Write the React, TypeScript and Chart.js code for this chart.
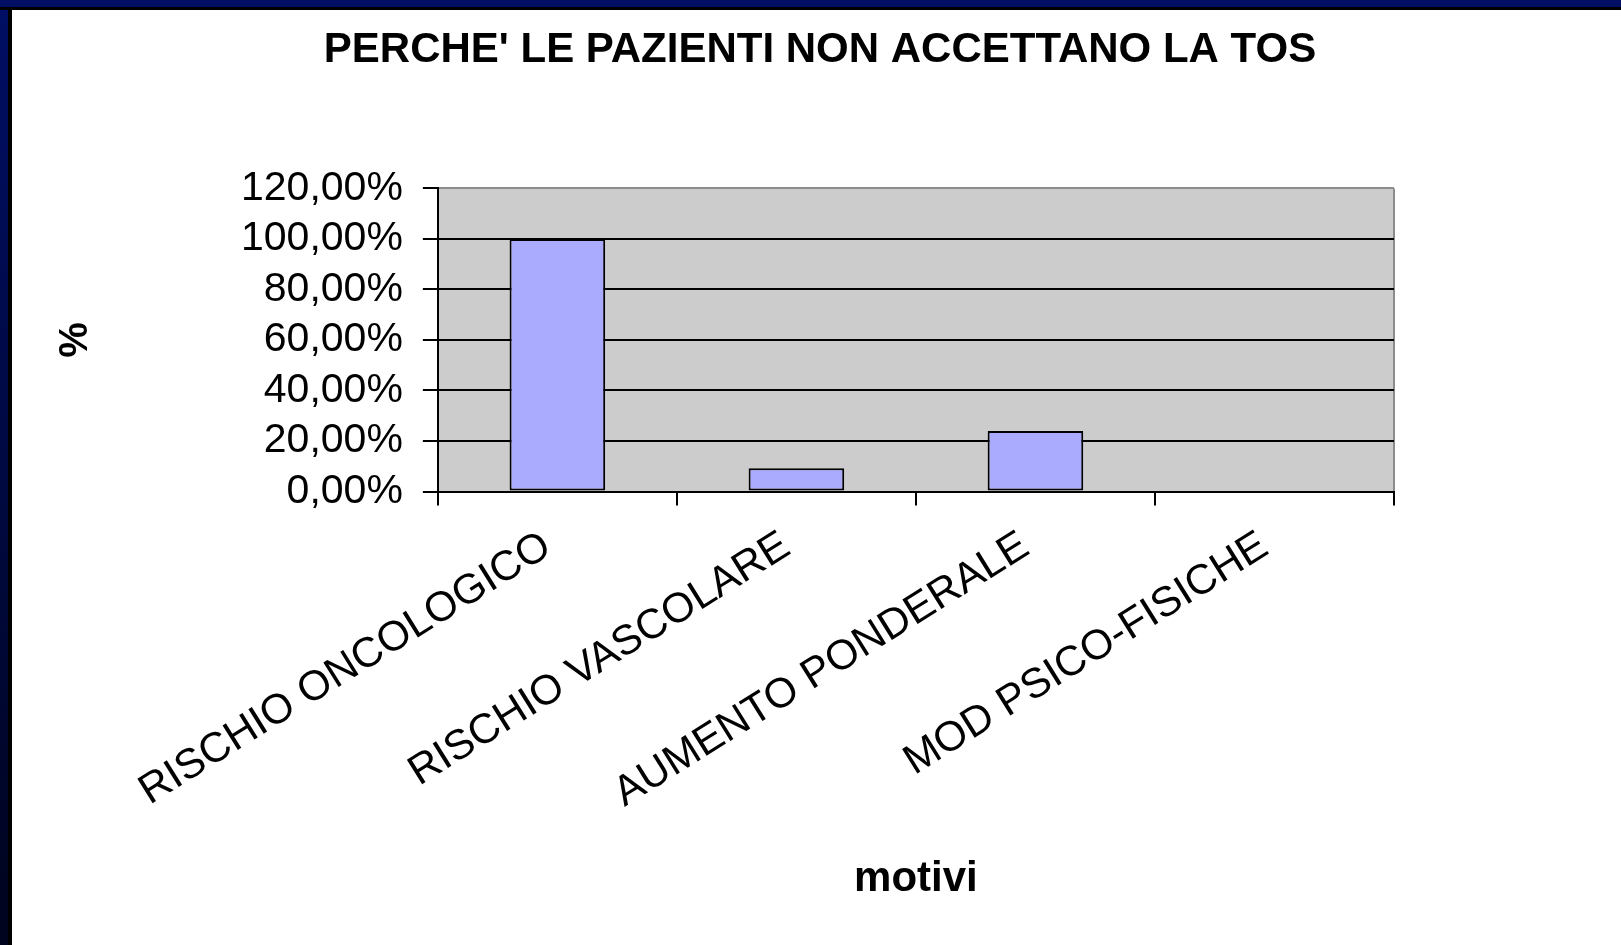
import React, { useEffect, useRef } from "react";
import { Chart, registerables } from "chart.js";

Chart.register(...registerables);

const chartTitle = "PERCHE' LE PAZIENTI NON ACCETTANO LA TOS";
const xAxisTitle = "motivi";
const yAxisTitle = "%";
const categories = ["RISCHIO ONCOLOGICO", "RISCHIO VASCOLARE", "AUMENTO PONDERALE", "MOD PSICO-FISICHE"];
const percentages = [100, 9.2, 24, 0];
const yMin = 0;
const yMax = 120;
const yStep = 20;

const FONT = "'Liberation Sans', Arial, sans-serif";

const plotBackground = {
  id: "plotBackground",
  beforeDraw(chart: any) {
    const { ctx, chartArea } = chart;
    if (!chartArea) return;
    ctx.save();
    ctx.fillStyle = "#CCCCCC";
    ctx.fillRect(chartArea.left, chartArea.top, chartArea.right - chartArea.left, chartArea.bottom - chartArea.top);
    ctx.restore();
  },
};

export default function App() {
  const canvasRef = useRef<HTMLCanvasElement | null>(null);

  useEffect(() => {
    if (!canvasRef.current) return;
    const chart = new Chart(canvasRef.current, {
      type: "bar",
      data: {
        labels: categories,
        datasets: [
          {
            data: percentages,
            backgroundColor: "#AAAAFF",
            borderColor: "#000000",
            borderWidth: 2,
            borderSkipped: false,
            categoryPercentage: 1,
            barPercentage: 0.4,
          },
        ],
      },
      plugins: [plotBackground],
      options: {
        responsive: false,
        animation: false,
        layout: { padding: { left: 56, right: 37, top: 0, bottom: 0 } },
        plugins: {
          legend: { display: false },
          tooltip: { enabled: false },
          title: {
            display: true,
            text: chartTitle,
            color: "#000",
            font: { family: FONT, size: 42, weight: "bold" },
            padding: { top: 25, bottom: 113 },
          },
        },
        scales: {
          x: {
            grid: {
              offset: true,
              drawOnChartArea: true,
              color: (ctx: any) => (ctx.type === "tick" ? "rgba(0,0,0,0)" : "#8C8C8C"),
              tickColor: "#000",
              lineWidth: 2,
              tickLength: 14,
            },
            border: { color: "#000", width: 2 },
            ticks: {
              color: "#000",
              font: { family: FONT, size: 42 },
              minRotation: 32,
              maxRotation: 32,
              autoSkip: false,
              padding: 16,
              labelOffset: -10,
            },
            title: {
              display: true,
              text: xAxisTitle,
              color: "#000",
              font: { family: FONT, size: 42, weight: "bold" },
              padding: { top: 20, bottom: 40 },
            },
          },
          y: {
            min: yMin,
            max: yMax,
            grid: {
              color: (ctx: any) => (ctx.tick && ctx.tick.value === yMax ? "#8C8C8C" : "#000"),
              tickColor: "#000",
              lineWidth: 2,
              tickLength: 15,
            },
            border: { color: "#000", width: 2 },
            ticks: {
              stepSize: yStep,
              autoSkip: false,
              color: "#000",
              font: { family: FONT, size: 41 },
              padding: 20,
              callback: (v: any) => `${v},00%`,
            },
            title: {
              display: true,
              text: yAxisTitle,
              color: "#000",
              font: { family: FONT, size: 40, weight: "bold", lineHeight: 1 },
              padding: { top: 0, bottom: 125 },
            },
          },
          spacer: {
            type: "linear",
            position: "right",
            display: true,
            grid: { display: false, drawTicks: false },
            border: { display: false },
            ticks: { display: false },
            afterFit: (scale: any) => {
              scale.width = 190;
            },
          },
        },
      },
    });
    return () => chart.destroy();
  }, []);

  return (
    <div style={{ position: "absolute", left: 0, top: 0, width: 1621, height: 945, background: "#FFFFFF", overflow: "hidden" }}>
      <div style={{ position: "absolute", left: 0, top: 0, width: 12, height: 945, background: "#000" }} />
      <div style={{ position: "absolute", left: 0, top: 0, width: 8, height: 945, background: "linear-gradient(#000E64, #00041E)" }} />
      <div style={{ position: "absolute", left: 0, top: 0, width: 1621, height: 10, background: "#000" }} />
      <div style={{ position: "absolute", left: 0, top: 0, width: 1621, height: 7, background: "#000E64" }} />
      <canvas ref={canvasRef} width={1621} height={945} style={{ position: "absolute", left: 0, top: 0 }} />
    </div>
  );
}
